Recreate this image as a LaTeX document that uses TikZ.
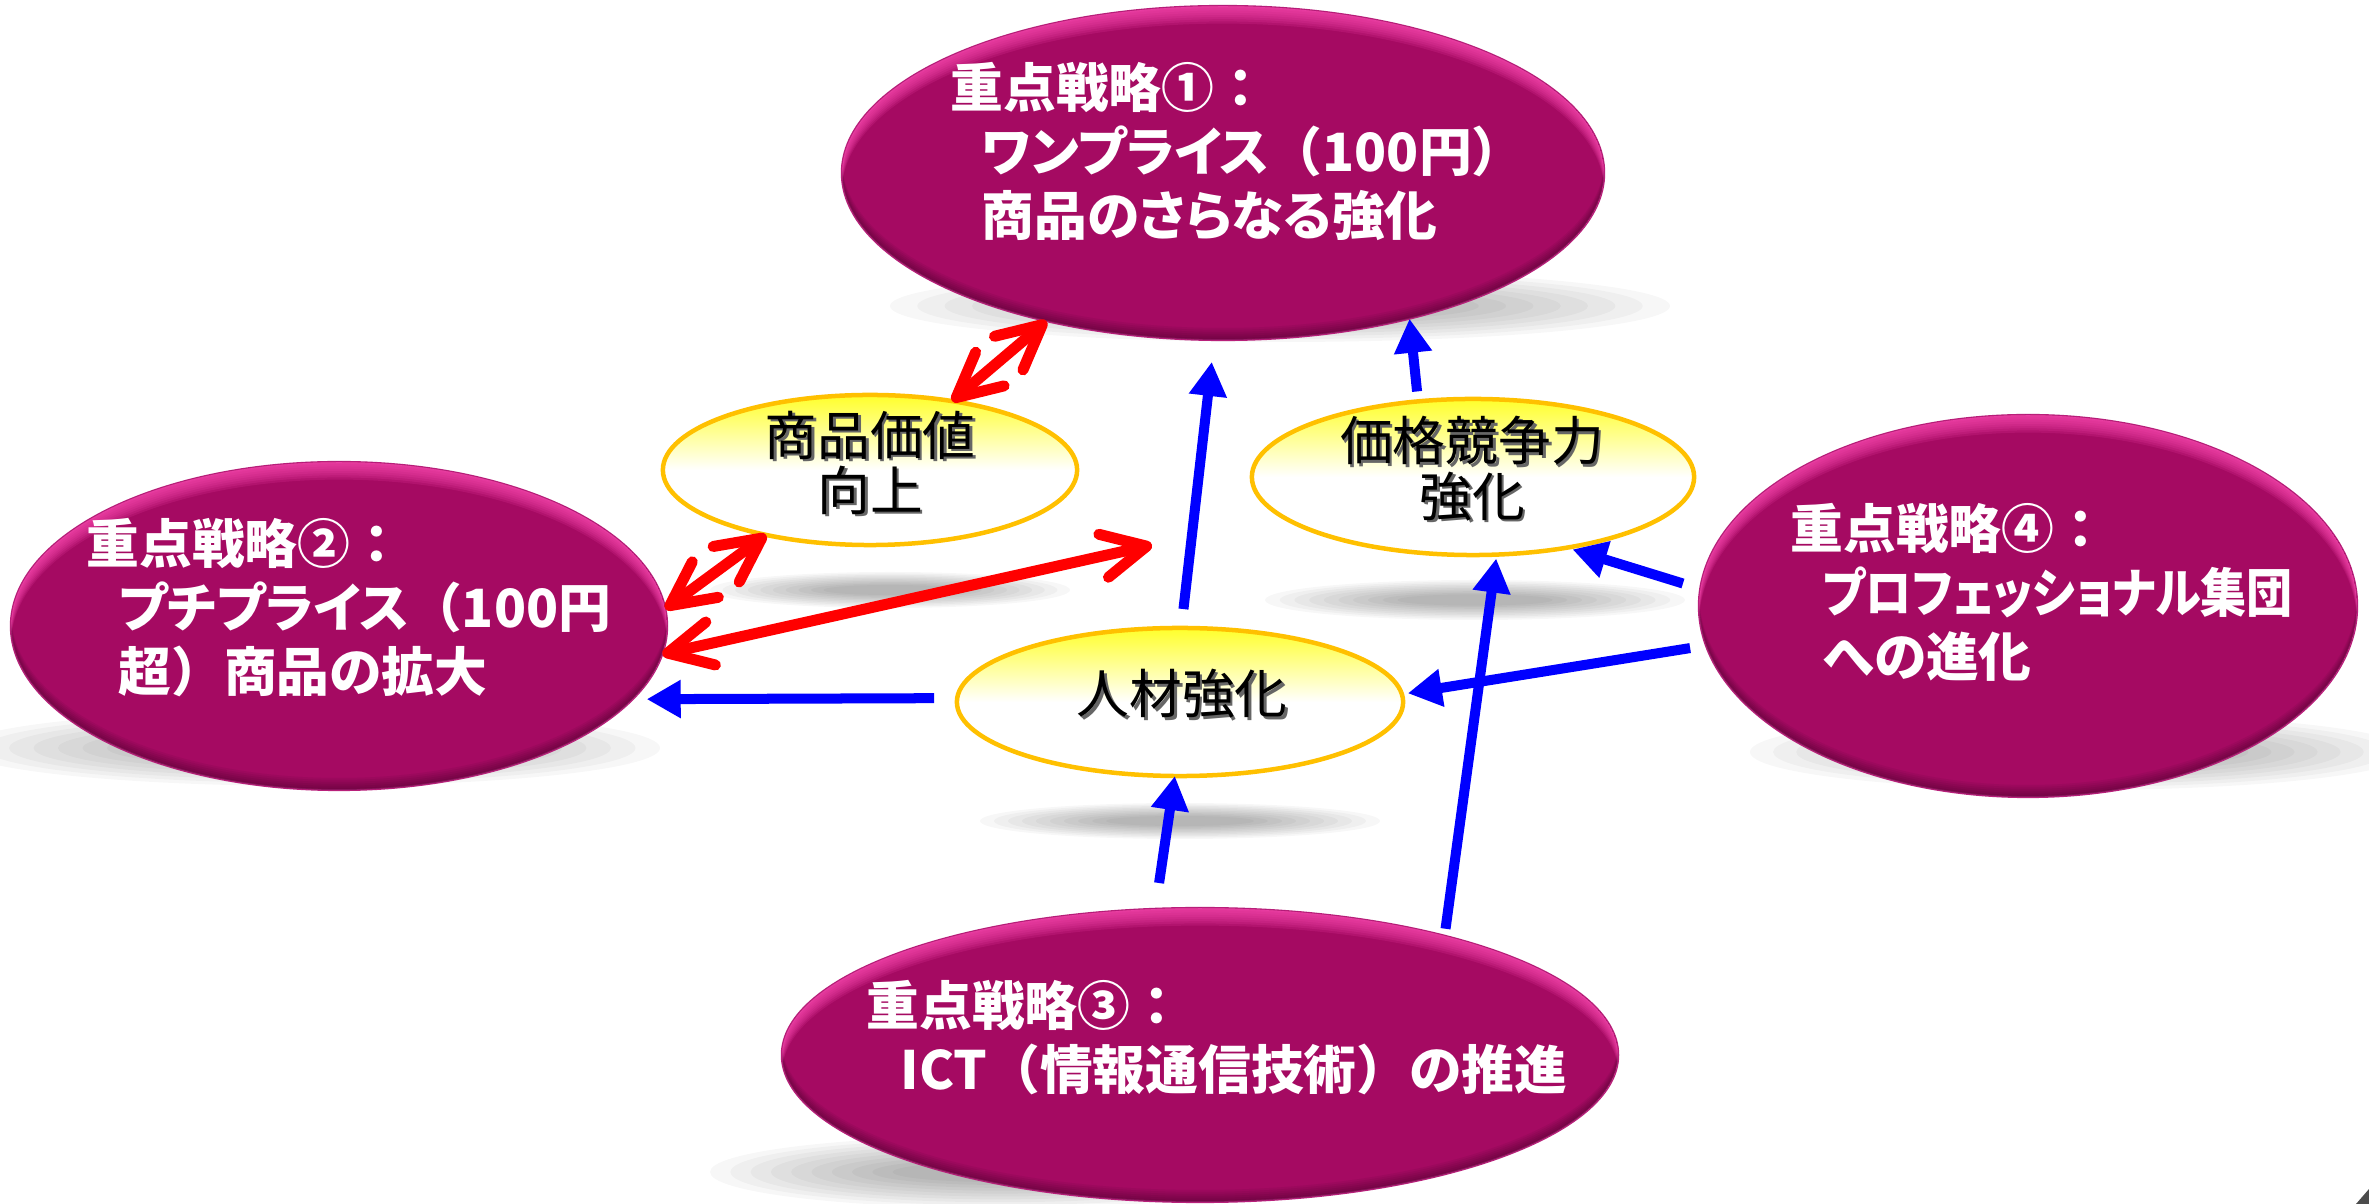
\documentclass[tikz,border=0pt]{standalone}
\usepackage{fontspec}
\newfontfamily\jp{Noto Sans CJK JP}[RawFeature=+palt]
\newfontfamily\jpg{Noto Sans CJK JP}
\usetikzlibrary{arrows.meta,shapes.geometric}
\definecolor{mag}{HTML}{A50A62}
\definecolor{magedge}{HTML}{B8207A}
\definecolor{magrim}{HTML}{FF4DB5}
\definecolor{ybord}{HTML}{FFC000}
\definecolor{yfill}{HTML}{FFFF2A}
\definecolor{bluea}{HTML}{0000FF}
\definecolor{reda}{HTML}{FF0000}
\newcommand\softshadow[4]{%
  \foreach \k in {0,...,9}{\fill[black, opacity=0.033] (#1,#2) ellipse [x radius={#3*(1-0.07*\k)}, y radius={#4*(1-0.08*\k)}];}}
\newcommand\bevel[4]{%
  \begin{scope}
  \clip (#1,#2) ellipse [x radius=#3, y radius=#4];
  \foreach \k in {1,...,8}{\fill[magrim, opacity=0.15, even odd rule] (#1,#2) ellipse [x radius=#3, y radius=#4] (#1,#2+2.2*\k) ellipse [x radius=#3, y radius=#4];}
  \foreach \k in {1,...,6}{\fill[black, opacity=0.05, even odd rule] (#1,#2) ellipse [x radius=#3, y radius=#4] (#1,#2-2*\k) ellipse [x radius=#3, y radius=#4];}
  \end{scope}}
\newcommand\tsh[1]{\makebox[0pt][l]{\kern0.8pt\raisebox{-0.8pt}{\textcolor{black!60}{#1}}}#1}
\newcommand\lpar{{\jpg（}}
\newcommand\rpar{{\jpg）}}
\newcommand\fcol{{\jpg：}}
\tikzset{
  strat/.style={ellipse, fill=mag, draw=magedge, line width=0.2mm, inner sep=0pt, outer sep=0pt},
  goal/.style={ellipse, draw=ybord, line width=0.45mm, top color=yfill, bottom color=white, middle color=white, inner sep=0pt, outer sep=0pt},
  stext/.style={text=white, font=\jp\bfseries\fontsize{15pt}{18.2pt}\selectfont, align=left, anchor=north west, inner sep=0pt},
  gtext/.style={text=black, font=\jpg\fontsize{15pt}{13.9pt}\selectfont, align=center, inner sep=0pt},
  barrow/.style={draw=bluea, line width=1mm, -{Triangle[length=3.4mm,width=3.6mm]}},
  rarrow/.style={draw=reda, line width=1.1mm, {Straight Barb[length=4.4mm,width=4.4mm,round]}-{Straight Barb[length=4.4mm,width=4.4mm,round]}},
}
\begin{document}
\begin{tikzpicture}[x=0.01cm, y=-0.01cm]
\useasboundingbox (0,0) rectangle (2369,1204);
\fill[white] (0,0) rectangle (2369,1204);
% shadows
\softshadow{1280}{306}{390}{36}
\softshadow{310}{748}{350}{38}
\softshadow{2080}{752}{330}{38}
\softshadow{1000}{1172}{290}{36}
\softshadow{890}{590}{180}{18}
\softshadow{1475}{600}{210}{20}
\softshadow{1180}{821}{200}{18}
% strategy ellipses
\node[strat, minimum width=76.2mm, minimum height=33.4mm] (s1) at (1223,173) {};
\bevel{1223}{173}{381}{167}
\node[strat, minimum width=65.6mm, minimum height=32.8mm] (s2) at (339,626) {};
\bevel{339}{626}{328}{164}
\node[strat, minimum width=83.6mm, minimum height=29.4mm] (s3) at (1200,1055) {};
\bevel{1200}{1055}{418}{147}
\node[strat, minimum width=65.8mm, minimum height=38.2mm] (s4) at (2028,606) {};
\bevel{2028}{606}{329}{191}
% goal ellipses
\node[goal, minimum width=41.4mm, minimum height=15.0mm] (y1) at (870,470) {};
\node[goal, minimum width=44.2mm, minimum height=15.6mm] (y2) at (1473,477) {};
\node[goal, minimum width=44.6mm, minimum height=14.8mm] (y3) at (1180,702) {};
% texts
\node[stext] (t1) at (950,62) {重点戦略①\fcol\\\hspace*{3.1mm}ワンプライス\lpar 100円\rpar\\\hspace*{3.1mm}商品のさらなる強化};
\node[stext] (t2) at (86,518) {重点戦略②\fcol\\\hspace*{3.2mm}プチプライス\lpar 100円\\\hspace*{3.2mm}超\rpar 商品の拡大};
\node[stext] (t3) at (866,980) {重点戦略③\fcol\\\hspace*{3.4mm}ICT\lpar 情報通信技術\rpar の推進};
\node[stext] (t4) at (1790,503) {重点戦略④\fcol\\\hspace*{3.2mm}\resizebox{47mm}{\height}{プロフェッショナル集団}\\\hspace*{3.2mm}への進化};
\node[gtext] (g1) at (870,464) {\tsh{商品価値}\\\tsh{向上}};
\node[gtext] (g2) at (1472,470) {\tsh{価格競争力}\\\tsh{強化}};
\node[gtext] (g3) at (1182,695) {\tsh{人材強化}};
% arrows
\coordinate (r3end) at (1152,545);
\draw[rarrow] (y1.40) -- (s1.220);
\draw[rarrow] (y1.212) -- (s2.3);
\draw[rarrow] (s2.-5) -- (r3end);
\draw[barrow, shorten <=1.9mm, shorten >=2.2mm] (y3.89) -- (s1.267);
\draw[barrow, shorten <=1mm] (y2.126) -- (s1.-38);
\draw[barrow, shorten <=2.3mm, shorten >=1.4mm] (y3.179) -- (s2.-14);
\draw[barrow, shorten <=1.6mm, shorten >=0.6mm] (s4.187) -- (y3.2);
\draw[barrow, shorten <=1.8mm, shorten >=0.6mm] (s4.177) -- (y2.-37);
\draw[barrow, shorten <=0.7mm, shorten >=0.4mm] (s3.26) -- (y2.-73);
\draw[barrow, shorten <=2.6mm] (s3.107.5) -- (y3.266);
% corner mark
\fill[black!70] (2369,1189) -- (2369,1204) -- (2356,1204) -- cycle;
\end{tikzpicture}
\end{document}
